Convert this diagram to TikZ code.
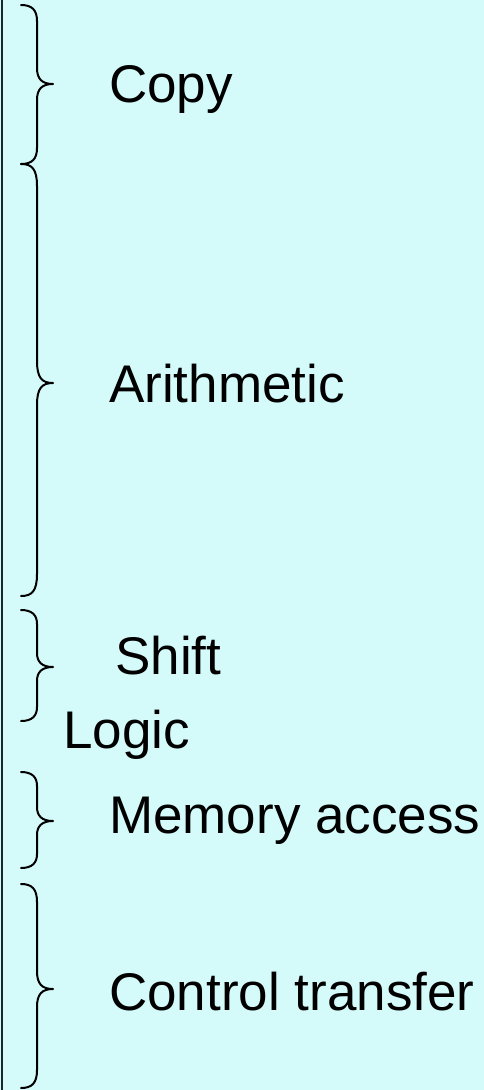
\documentclass[tikz,border=0pt]{standalone}
\usepackage{fontspec}
\setmainfont{Liberation Sans}
\definecolor{bgcyan}{RGB}{213,250,250}
\definecolor{edgedark}{RGB}{25,40,40}
\newcommand\mybrace[4]{%
  \draw[bracestyle] (21,#1) .. controls (32,#1) and (37,#1+5) .. (37,#1+#4)
    -- (37,#2-#4) .. controls (37,#2-5) and (42,#2) .. (53,#2)
    .. controls (42,#2) and (37,#2+5) .. (37,#2+#4)
    -- (37,#3-#4) .. controls (37,#3-5) and (32,#3) .. (21,#3);}
\begin{document}
\begin{tikzpicture}[x=1pt,y=-1pt,
  bracestyle/.style={draw=black,line width=2pt,line cap=round,line join=round},
  lbl/.style={anchor=base west,inner sep=0pt,font=\fontsize{53}{60}\selectfont}]
\fill[bgcyan] (0,0) rectangle (484,1090);
\useasboundingbox (0,0) rectangle (484,1090);
\draw[edgedark,line width=2pt] (1.5,0) -- (1.5,1090);
\mybrace{5}{84}{164}{16}
\mybrace{164}{383}{596}{22}
\mybrace{610}{667}{721}{14}
\mybrace{772}{821}{868}{14}
\mybrace{884}{989}{1088}{18}
\node[lbl] (copy) at (109,102) {Copy};
\node[lbl] (arith) at (109,402) {Arithmetic};
\node[lbl] (shift) at (115,674) {Shift};
\node[lbl] (logic) at (63,748) {Logic};
\node[lbl] (mem) at (109,833) {Memory access};
\node[lbl] (ctrl) at (109,1010) {Control transfer};
\end{tikzpicture}
\end{document}
